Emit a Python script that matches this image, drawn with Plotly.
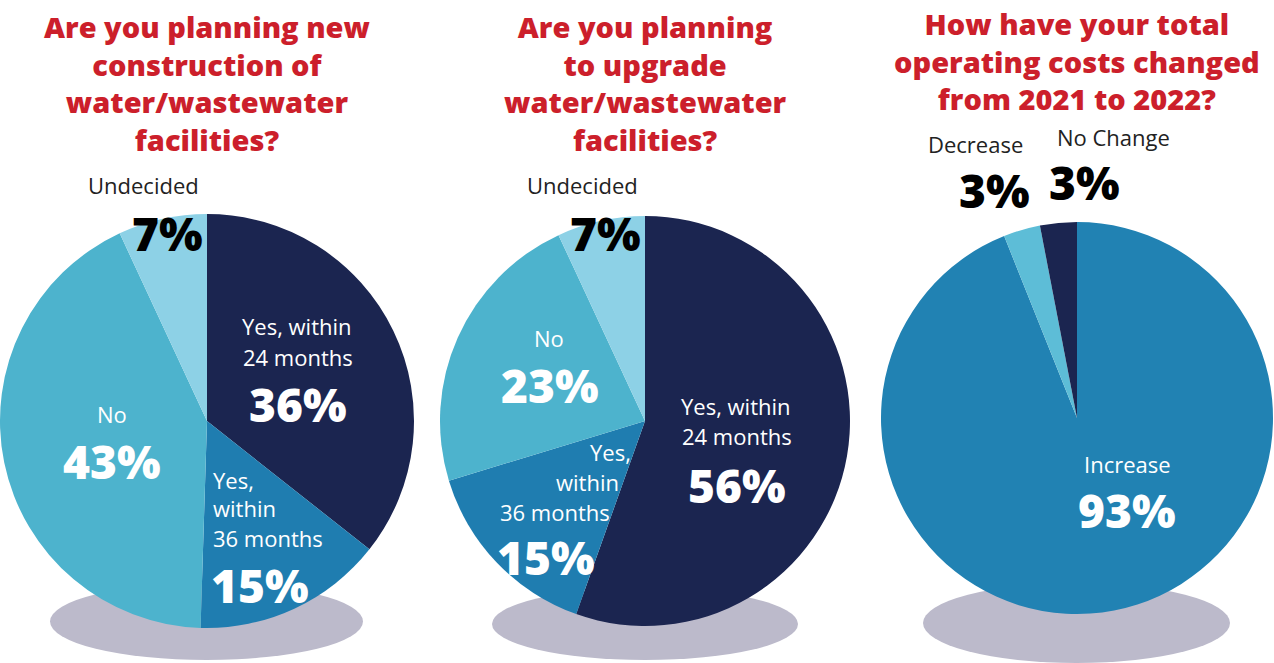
import plotly.graph_objects as go

W, H = 1274, 663

# ---- data ----
q1_labels = ["Yes, within 24 months", "Yes, within 36 months", "No", "Undecided"]
q1_values = [36, 15, 43, 7]
q2_labels = ["Yes, within 24 months", "Yes, within 36 months", "No", "Undecided"]
q2_values = [56, 15, 23, 7]
q3_labels = ["Increase", "Decrease", "No Change"]
q3_values = [93, 3, 3]

titles = [
    ["Are you planning new", "construction of", "water/wastewater", "facilities?"],
    ["Are you planning", "to upgrade", "water/wastewater", "facilities?"],
    ["How have your total", "operating costs changed", "from 2021 to 2022?"],
]

NAVY = "#1b2550"
MID = "#1f7db0"
TEAL = "#4db3cd"
LIGHT = "#8dd1e6"
INC = "#2182b3"
DEC = "#5dbdd7"
RED = "#cc1f2b"
SHADOW = "#bcbacb"

def px(x):
    return min(max(x / W, 0), 1)

def py(y):
    return min(max(1 - y / H, 0), 1)

def dom(cx, cy, d):
    r = d / 2
    return dict(x=[px(cx - r), px(cx + r)], y=[py(cy + r), py(cy - r)])

fig = go.Figure()

pies = [
    (q1_labels, q1_values, [NAVY, MID, TEAL, LIGHT], (207, 421, 414)),
    (q2_labels, q2_values, [NAVY, MID, TEAL, LIGHT], (645, 421, 410)),
    (q3_labels, q3_values, [INC, DEC, NAVY], (1077, 418, 392)),
]
for labels, values, colors, (cx, cy, d) in pies:
    fig.add_trace(go.Pie(
        labels=labels, values=values, sort=False, direction="clockwise",
        rotation=0, marker=dict(colors=colors, line=dict(width=0)),
        textinfo="none", hoverinfo="label+percent", showlegend=False,
        domain=dom(cx, cy, d),
    ))

# shadows beneath pies
shapes = []
for (x0, x1, y0, y1) in [(50, 363, 583, 660), (492, 798, 588, 660), (923, 1230, 583, 663)]:
    shapes.append(dict(type="circle", xref="paper", yref="paper", layer="below",
                       x0=px(x0), x1=px(x1), y0=py(y1), y1=py(y0),
                       fillcolor=SHADOW, line=dict(width=0)))

ann = []
HEAVY = "Open Sans, Roboto, sans-serif"
TFONT = dict(family=HEAVY, size=29, color=RED, weight=800)
title_pos = [(208, 83), (645, 83), (1077, 61)]
for lines, (cx, cy) in zip(titles, title_pos):
    ann.append(dict(text="<br>".join(lines), x=px(cx), y=py(cy), xref="paper", yref="paper",
                    showarrow=False, font=TFONT, xanchor="center", yanchor="middle",
                    align="center"))

LFONT = "Open Sans, sans-serif"
def lab(t, x, y, color="white", size=22, xa="center"):
    ann.append(dict(text=t, x=px(x), y=py(y), xref="paper", yref="paper", showarrow=False,
                    font=dict(family=LFONT, size=size, color=color), xanchor=xa, yanchor="middle"))

def pct(t, x, y, color="white", size=46, xa="center"):
    ann.append(dict(text=t, x=px(x), y=py(y), xref="paper", yref="paper", showarrow=False,
                    font=dict(family=HEAVY, size=size, color=color, weight=800),
                    xanchor=xa, yanchor="middle"))

def p(v):
    return f"{v}%"

# pie 1
lab(q1_labels[3], 143, 185, color="#222222")
pct(p(q1_values[3]), 167, 233, color="black")
lab("Yes, within", 297, 326)
lab("24 months", 298, 357)
pct(p(q1_values[0]), 298, 404)
lab(q1_labels[2], 112, 414)
pct(p(q1_values[2]), 112, 461)
lab("Yes,", 211, 480, xa="left")
lab("within", 211, 508, xa="left")
lab("36 months", 211, 538, xa="left")
pct(p(q1_values[1]), 209, 585, xa="left")

# pie 2
lab(q2_labels[3], 582, 185, color="#222222")
pct(p(q2_values[3]), 605, 233, color="black")
lab(q2_labels[2], 549, 338)
pct(p(q2_values[2]), 550, 385)
lab("Yes, within", 736, 406)
lab("24 months", 737, 436)
pct(p(q2_values[0]), 737, 485)
lab("Yes,", 633, 452, xa="right")
lab("within", 621, 482, xa="right")
lab("36 months", 612, 512, xa="right")
pct(p(q2_values[1]), 546, 557)

# pie 3
lab(q3_labels[1], 975, 144, color="#222222")
lab(q3_labels[2], 1113, 137, color="#222222")
pct(p(q3_values[1]), 994, 190, color="black")
pct(p(q3_values[2]), 1084, 182, color="black")
lab(q3_labels[0], 1127, 464)
pct(p(q3_values[0]), 1127, 510)

fig.update_layout(
    width=W, height=H, margin=dict(l=0, r=0, t=0, b=0),
    paper_bgcolor="white", plot_bgcolor="white",
    shapes=shapes, annotations=ann, showlegend=False,
)

fig.write_html("out.html", config={"displayModeBar": False},
               post_script="document.body.style.margin='0';document.body.style.padding='0';")
